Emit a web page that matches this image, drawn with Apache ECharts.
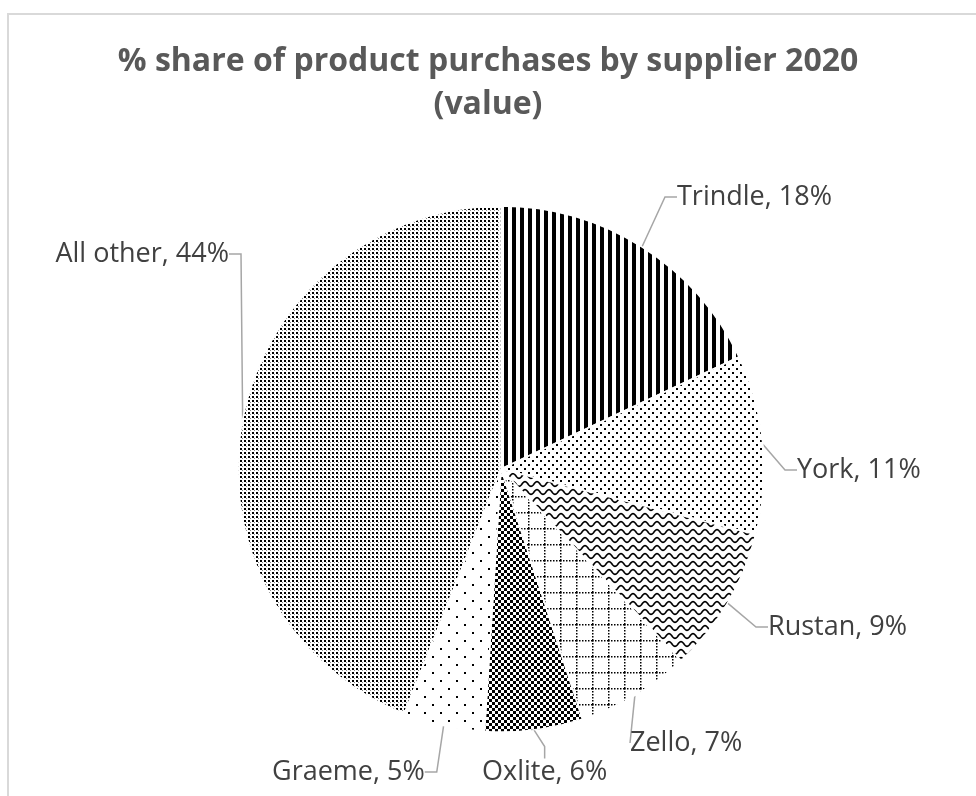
<!DOCTYPE html>
<html>
<head>
<meta charset="utf-8">
<script src="https://cdn.jsdelivr.net/npm/echarts@6/dist/echarts.min.js"></script>
<style>
html,body{margin:0;padding:0;background:#fff;}
#chart{width:976px;height:796px;}
</style>
</head>
<body>
<div id="chart"></div>
<script>
const titleText = '% share of product purchases by supplier 2020\n(value)';
const suppliers = ['Trindle', 'York', 'Rustan', 'Zello', 'Oxlite', 'Graeme', 'All other'];
const shares = [18, 11, 9, 7, 6, 5, 44];

// label placement (x, middle y, text alignment) — layout only
const labelSpots = [
  [677, 197, 'left'], [797, 470, 'left'], [768, 627, 'left'], [630, 743, 'left'],
  [482, 772, 'left'], [272, 772, 'left'], [229, 254, 'right']
];

function makeTile(w, h, draw) {
  const c = document.createElement('canvas');
  c.width = w; c.height = h;
  const ctx = c.getContext('2d');
  ctx.fillStyle = '#fff';
  ctx.fillRect(0, 0, w, h);
  ctx.fillStyle = '#000';
  ctx.strokeStyle = '#000';
  draw(ctx);
  return { image: c, repeat: 'repeat' };
}

const patterns = [
  makeTile(8, 8, ctx => { ctx.fillRect(0, 0, 4, 8); }),
  makeTile(8, 8, ctx => { ctx.fillRect(0, 0, 2, 2); ctx.fillRect(4, 4, 2, 2); }),
  makeTile(12, 8, ctx => {
    ctx.lineWidth = 1.6;
    ctx.beginPath();
    for (let x = -1; x <= 13; x += 0.5) {
      const y = 4 + 2.4 * Math.sin((x / 12) * Math.PI * 2);
      if (x === -1) ctx.moveTo(x, y); else ctx.lineTo(x, y);
    }
    ctx.stroke();
  }),
  makeTile(16, 16, ctx => {
    for (let i = 0; i < 16; i += 3) { ctx.fillRect(i, 0, 1.5, 1.5); ctx.fillRect(0, i, 1.5, 1.5); }
  }),
  makeTile(6, 6, ctx => { ctx.fillRect(0, 0, 3, 3); ctx.fillRect(3, 3, 3, 3); }),
  makeTile(16, 16, ctx => { ctx.fillRect(0, 0, 2, 2); ctx.fillRect(8, 8, 2, 2); }),
  makeTile(4, 4, ctx => { ctx.fillRect(0, 0, 2, 2); ctx.fillStyle = '#888'; ctx.fillRect(2, 2, 1, 1); })
];

const pieData = suppliers.map((name, i) => ({
  name: name,
  value: shares[i],
  itemStyle: { color: patterns[i] }
}));

const chart = echarts.init(document.getElementById('chart'), null, { renderer: 'canvas' });
chart.setOption({
  backgroundColor: '#ffffff',
  animation: false,
  title: {
    text: titleText,
    left: 'center',
    top: 35,
    textStyle: {
      fontFamily: 'Open Sans',
      fontWeight: 'bold',
      fontSize: 32,
      lineHeight: 43,
      color: '#595959'
    }
  },
  graphic: [{
    type: 'rect',
    shape: { x: 8, y: 14, width: 1000, height: 820 },
    style: { fill: 'none', stroke: '#d9d9d9', lineWidth: 2 },
    silent: true
  }],
  series: [{
    type: 'pie',
    center: [501, 469],
    radius: 263,
    startAngle: 90,
    clockwise: true,
    data: pieData,
    itemStyle: { borderColor: '#fff', borderWidth: 1.5 },
    label: {
      show: true,
      formatter: p => p.name + ', ' + p.value + '%',
      fontFamily: 'Open Sans',
      fontSize: 27,
      color: '#404040'
    },
    labelLine: {
      show: true,
      length: 30,
      length2: 12,
      lineStyle: { color: '#a6a6a6', width: 1.5 }
    },
    labelLayout: function (params) {
      const s = labelSpots[params.dataIndex];
      return { x: s[0], y: s[1], align: s[2], verticalAlign: 'middle', hideOverlap: false, moveOverlap: null };
    }
  }]
});
</script>
</body>
</html>
